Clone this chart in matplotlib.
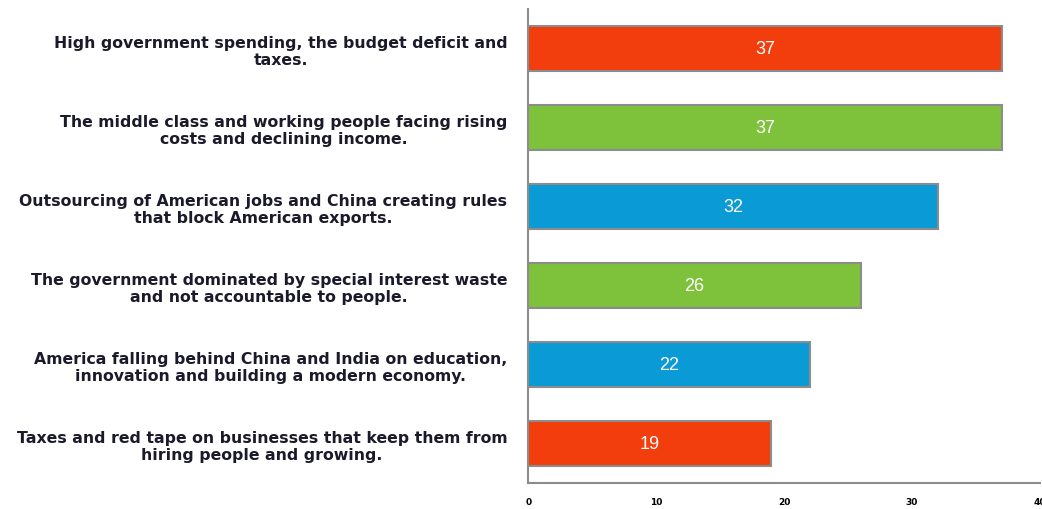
import matplotlib.pyplot as plt

# 카테고리 (위에서 아래 순서)
categories = [
    "High government spending, the budget deficit and\ntaxes.",
    "The middle class and working people facing rising\ncosts and declining income.",
    "Outsourcing of American jobs and China creating rules\nthat block American exports.",
    "The government dominated by special interest waste\nand not accountable to people.",
    "America falling behind China and India on education,\ninnovation and building a modern economy.",
    "Taxes and red tape on businesses that keep them from\nhiring people and growing.",
]
values = [37, 37, 32, 26, 22, 19]
colors = ["#F23D0C", "#7EC13B", "#0A9BD7", "#7EC13B", "#0A9BD7", "#F23D0C"]
xticks = [0, 10, 20, 30, 40]

fig = plt.figure(figsize=(10.42, 5.10), dpi=100)
ax = fig.add_axes([0.507, 0.051, 0.491, 0.929])

ypos = list(range(len(categories)))[::-1]
bars = ax.barh(ypos, values, height=0.57, color=colors, edgecolor="#8C8C8C", linewidth=1.5)

# 막대 안쪽 값 라벨
for b, v in zip(bars, values):
    ax.text(v / 2, b.get_y() + b.get_height() / 2, str(v),
            ha="center", va="center", color="white", fontsize=13,
            fontfamily="Liberation Sans")

ax.set_xlim(0, 40)
ax.set_ylim(-0.5, 5.5)
ax.set_yticks(ypos)
ax.set_yticklabels(categories, multialignment="center", fontsize=11.3,
                   fontweight="bold", fontfamily="DejaVu Sans", color="#1a1a2a",
                   linespacing=1.15)
ax.tick_params(axis="y", length=0, pad=15)
ax.set_xticks(xticks)
ax.set_xticklabels([str(t) for t in xticks], fontsize=6.5, fontweight="bold",
                   fontfamily="DejaVu Sans")
ax.tick_params(axis="x", length=0, pad=10)

for s in ["top", "right"]:
    ax.spines[s].set_visible(False)
for s in ["left", "bottom"]:
    ax.spines[s].set_color("#8C8C8C")
    ax.spines[s].set_linewidth(1.5)

plt.savefig("out.png", dpi=100)
